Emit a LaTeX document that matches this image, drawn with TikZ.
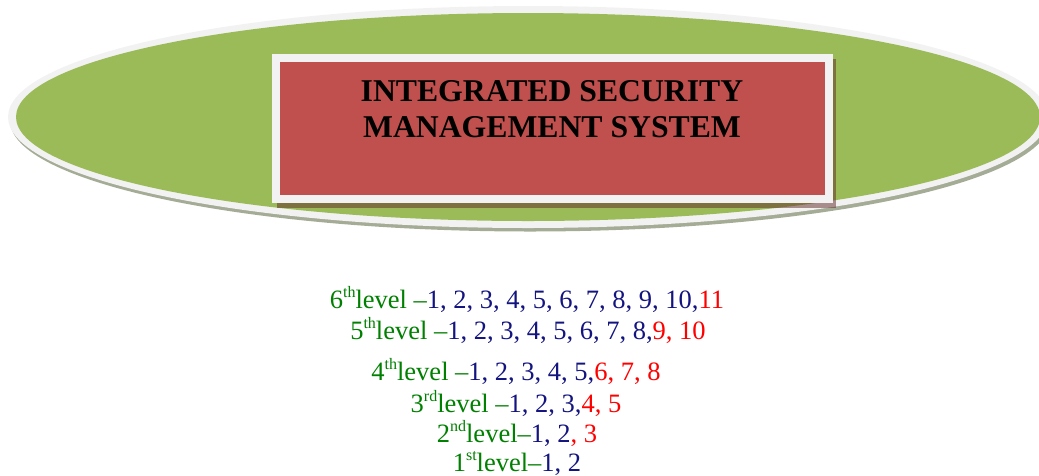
\documentclass[tikz,border=0pt]{standalone}
\usepackage{fontspec}
\setmainfont{Liberation Serif}
\definecolor{ellgreen}{RGB}{155,187,89}
\definecolor{ringgrey}{RGB}{242,242,242}
\definecolor{ellshadow}{RGB}{165,172,150}
\definecolor{boxred}{RGB}{192,80,77}
\definecolor{boxshadow}{RGB}{96,40,38}
\definecolor{lvgreen}{RGB}{0,128,0}
\definecolor{lvblue}{RGB}{20,20,128}
\definecolor{lvred}{RGB}{255,0,0}
\newcommand\supx[1]{\raisebox{10.5pt}{\fontsize{16}{16}\selectfont #1}}
\newcommand\lvg[1]{\textcolor{lvgreen}{#1}}
\newcommand\lvb[1]{\textcolor{lvblue}{#1}}
\newcommand\lvr[1]{\textcolor{lvred}{#1}}
\begin{document}
\begin{tikzpicture}[x=1pt,y=-1pt,
  titletext/.style={inner sep=0pt, align=center, anchor=base,
    font=\fontsize{31.7}{36}\selectfont\bfseries},
  leveltext/.style={inner sep=0pt, anchor=base,
    font=\fontsize{26.5}{31}\selectfont}]
\useasboundingbox (0,0) rectangle (1039,475);
% ellipse with ring and shadow
\fill[ellshadow] (530,120.5) ellipse [x radius=520, y radius=111];
\fill[ringgrey] (528,117) ellipse [x radius=520, y radius=111];
\fill[ellgreen] (528,117) ellipse [x radius=512, y radius=104];
% box
\fill[boxshadow, opacity=0.5] (277,59) rectangle (836,208);
\fill[ringgrey] (272,54) rectangle (833,203);
\fill[boxred] (280,62) rectangle (825,195);
\node[titletext] (title) at (552,137) {INTEGRATED SECURITY\\MANAGEMENT SYSTEM};
% levels
\node[leveltext] (l6) at (527,308) {\lvg{6\supx{th}level --}\lvb{1, 2, 3, 4, 5, 6, 7, 8, 9, 10,}\lvr{11}};
\node[leveltext] (l5) at (528,339) {\lvg{5\supx{th}level --}\lvb{1, 2, 3, 4, 5, 6, 7, 8,}\lvr{9, 10}};
\node[leveltext] (l4) at (516,380) {\lvg{4\supx{th}level --}\lvb{1, 2, 3, 4, 5,}\lvr{6, 7, 8}};
\node[leveltext] (l3) at (516,412) {\lvg{3\supx{rd}level --}\lvb{1, 2, 3,}\lvr{4, 5}};
\node[leveltext] (l2) at (517,442) {\lvg{2\supx{nd}level--}\lvb{1, 2}\lvr{, 3}};
\node[leveltext] (l1) at (517,471) {\lvg{1\supx{st}level--}\lvb{1, 2}};
\end{tikzpicture}
\end{document}
